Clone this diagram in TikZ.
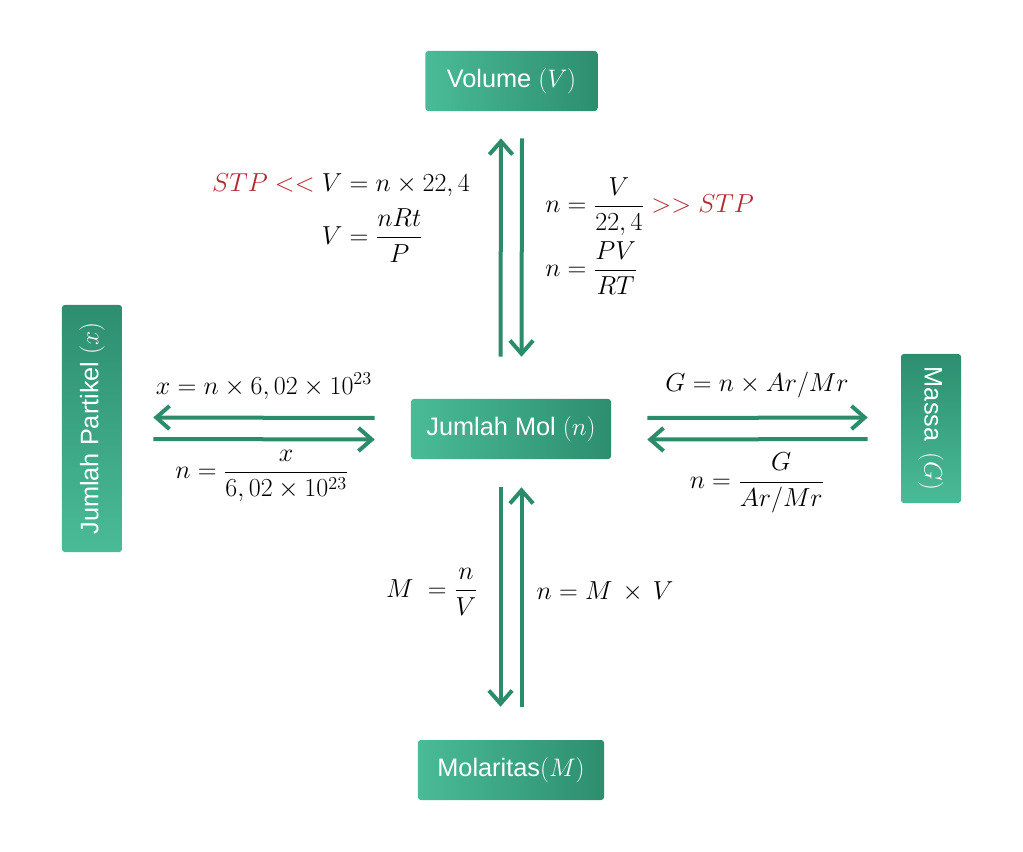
\RequirePackage{fix-cm}
\documentclass[tikz,border=0pt]{standalone}
\usepackage{amsmath}
\usepackage{fontspec}
\setsansfont{Liberation Sans}
\usepackage{tikz}
\usetikzlibrary{arrows.meta,calc,positioning}
\definecolor{boxlight}{RGB}{74,187,151}
\definecolor{boxdark}{RGB}{45,142,110}
\definecolor{arrowgreen}{RGB}{43,140,106}
\definecolor{stpred}{RGB}{178,42,48}

\begin{document}
\begin{tikzpicture}[
    x=0.025cm, y=-0.025cm,
    box/.style={rectangle, rounded corners=2pt, left color=boxlight, right color=boxdark, text=white, minimum height=1.5cm, inner sep=0pt, font=\sffamily\fontsize{18}{21}\selectfont},
    vbox/.style={box, top color=boxdark, bottom color=boxlight},
    formula/.style={inner sep=0pt, font=\fontsize{18.5}{22}\selectfont},
    arrow/.style={-{Straight Barb[length=0.33cm,width=0.58cm]}, draw=arrowgreen, line width=0.1cm}
]
\path[use as bounding box] (0,0) rectangle (1023,852);

% Boxes
\node[box, minimum width=4.3cm] (vol) at (511.5,81) {Volume $(V)$};
\node[box, minimum width=5cm] (mol) at (511,429) {Jumlah Mol $(n)$};
\node[box, minimum width=4.65cm] (mola) at (511,770) {Molaritas$(M)$};
\node[vbox, rotate=90, minimum width=6.175cm] (part) at (92,428.5) {Jumlah Partikel $(x)$};
\node[vbox, rotate=-90, minimum width=3.725cm] (massa) at (931,428.5) {Massa~\,$(G)$};

% Volume <-> Mol
\draw[arrow] ($(mol.north)+(-10.5,-42)$) -- ($(vol.south)+(-10.5,27)$);
\draw[arrow] ($(vol.south)+(10.5,27)$) -- ($(mol.north)+(10.5,-42)$);
\node[formula] (voltomol) at (341,216) {$\begin{aligned} \textcolor{stpred}{STP<<}\;& V = n\times 22,4\\[2pt] & V=\frac{nRt}{P}\end{aligned}$};
\node[formula, anchor=west] (moltovol) at (545,236) {$\begin{aligned} n &= \frac{V}{22,4}\;\textcolor{stpred}{>>STP}\\ n &= \frac{PV}{RT}\end{aligned}$};

% Partikel <-> Mol
\draw[arrow] ($(mol.west)+(-36,-11)$) -- ($(part.south)+(31,-11)$);
\draw[arrow] ($(part.south)+(31,10.5)$) -- ($(mol.west)+(-36,10.5)$);
\node[formula] (moltopart) at (264,386) {$x = n\times 6,02\times 10^{23}$};
\node[formula] (parttomol) at (262,476) {$n=\dfrac{x}{6,02\times 10^{23}}$};

% Mol <-> Massa
\draw[arrow] ($(mol.east)+(36,-11)$) -- ($(massa.south)+(-33,-11)$);
\draw[arrow] ($(massa.south)+(-33,10.5)$) -- ($(mol.east)+(36,10.5)$);
\node[formula] (moltomassa) at (757,385) {$G = n\times Ar/Mr$};
\node[formula] (massatomol) at (757,483) {$n=\dfrac{G}{Ar/Mr}$};

% Mol <-> Molaritas
\draw[arrow] ($(mol.south)+(-10.5,28)$) -- ($(mola.north)+(-10.5,-33)$);
\draw[arrow] ($(mola.north)+(10.5,-33)$) -- ($(mol.south)+(10.5,28)$);
\node[formula] (moltomola) at (432,592) {$M\;=\dfrac{n}{V}$};
\node[formula] (molatomol) at (605,592) {$n=M\,\times\,V$};

\end{tikzpicture}
\end{document}
